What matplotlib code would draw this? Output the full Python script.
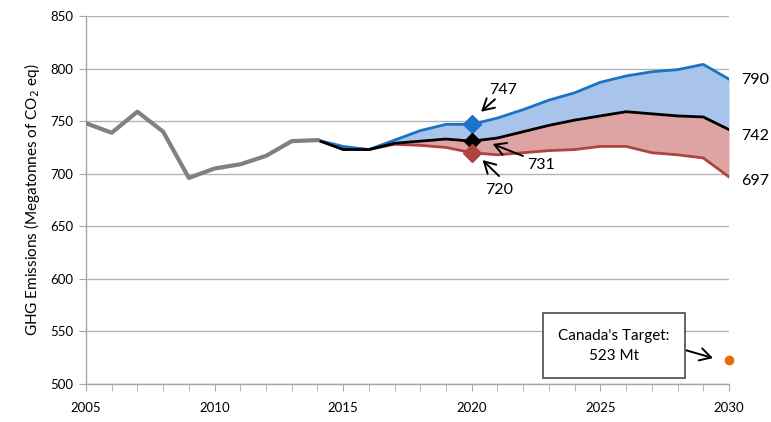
import numpy as np
import matplotlib.pyplot as plt
from matplotlib.ticker import MultipleLocator

# ---------------------------
# DATA (Mt CO2 eq)
# ---------------------------
hist_years = list(range(2005, 2015))
hist_vals = [748, 739, 759, 740, 696, 705, 709, 717, 731, 732]

proj_years = list(range(2014, 2031))
high_vals = [732, 726, 723, 732, 741, 747, 747, 753, 761, 770, 777, 787, 793, 797, 799, 804, 790]
ref_vals = [732, 723, 723, 729, 731, 733, 731, 734, 740, 746, 751, 755, 759, 757, 755, 754, 742]
low_vals = [732, 724, 723, 728, 727, 725, 720, 718, 720, 722, 723, 726, 726, 720, 718, 715, 697]

marker_year = 2020
target_year = 2030
target_val = 523

BLUE = "#1a73c8"
BLUE_FILL = "#a8c4ea"
RED = "#b0433f"
RED_FILL = "#dda4a3"
GREY = "#808080"
ORANGE = "#e46c0a"

plt.rcParams["font.family"] = ["Lato", "DejaVu Sans"]

fig = plt.figure(figsize=(7.71, 4.22), dpi=100)
ax = fig.add_axes([0.1115, 0.090, 0.834, 0.872])

yrs = np.array(proj_years)
hi = np.array(high_vals)
ref = np.array(ref_vals)
lo = np.array(low_vals)

ax.fill_between(yrs, ref, hi, color=BLUE_FILL, lw=0, zorder=2)
ax.fill_between(yrs, lo, ref, color=RED_FILL, lw=0, zorder=2)

ax.plot(hist_years, hist_vals, color=GREY, lw=3, zorder=4, solid_joinstyle="round")
ax.plot(yrs, lo, color=RED, lw=2, zorder=3)
ax.plot(yrs, hi, color=BLUE, lw=2, zorder=3)
ax.plot(yrs, ref, color="black", lw=2, zorder=3)

i = proj_years.index(marker_year)
ax.plot(marker_year, high_vals[i], marker="D", color=BLUE, ms=9, zorder=5)
ax.plot(marker_year, ref_vals[i], marker="D", color="black", ms=8, zorder=5)
ax.plot(marker_year, low_vals[i], marker="D", color=RED, ms=9, zorder=5)

ax.plot(target_year, target_val, "o", color=ORANGE, ms=6, zorder=6, clip_on=False)

# ---------------------------
# ANNOTATIONS
# ---------------------------
arrow = dict(arrowstyle="->,head_length=0.8,head_width=0.45", color="black", lw=1.4,
             shrinkA=0, shrinkB=0)
ax.annotate("", xy=(2020.36, 759.0), xytext=(2020.90, 770.8), arrowprops=arrow)
ax.text(2021.2, 779.6, f"{high_vals[i]}", ha="center", va="center", fontsize=11.5)
ax.annotate("", xy=(2020.81, 728.3), xytext=(2021.99, 716.9), arrowprops=arrow)
ax.text(2022.68, 708.3, f"{ref_vals[i]}", ha="center", va="center", fontsize=11.5)
ax.annotate("", xy=(2020.42, 713.0), xytext=(2021.06, 697.8), arrowprops=arrow)
ax.text(2021.07, 684.5, f"{low_vals[i]}", ha="center", va="center", fontsize=11.5)

ax.text(2030.47, high_vals[-1] - 1, f"{high_vals[-1]}", ha="left", va="center", fontsize=11.5, clip_on=False)
ax.text(2030.47, ref_vals[-1] - 6, f"{ref_vals[-1]}", ha="left", va="center", fontsize=11.5, clip_on=False)
ax.text(2030.47, low_vals[-1] - 4, f"{low_vals[-1]}", ha="left", va="center", fontsize=11.5, clip_on=False)

ax.annotate("", xy=(2029.38, 524.7), xytext=(2028.30, 532.3), arrowprops=arrow, zorder=7)
ax.text(2025.53, 536.6, f"Canada's Target:\n{target_val} Mt", ha="center", va="center",
        fontsize=11, linespacing=1.55, zorder=8,
        bbox=dict(boxstyle="square,pad=1.0", fc="white", ec="#595959", lw=1.3))

# ---------------------------
# FORMATO
# ---------------------------
ax.set_xlim(2005, 2030)
ax.set_ylim(500, 850)
ax.xaxis.set_major_locator(MultipleLocator(5))
ax.xaxis.set_minor_locator(MultipleLocator(1))
ax.yaxis.set_major_locator(MultipleLocator(50))
ax.grid(axis="y", color="#b3b3b3", lw=1, zorder=0)
ax.set_axisbelow(True)

for s in ["top", "right"]:
    ax.spines[s].set_visible(False)
for s in ["left", "bottom"]:
    ax.spines[s].set_color("#a6a6a6")
    ax.spines[s].set_linewidth(1)

ax.tick_params(axis="both", which="both", color="#a6a6a6", labelsize=9.5, direction="out")
ax.tick_params(axis="x", which="both", length=5, pad=8)
ax.tick_params(axis="y", length=5, pad=4)

ax.set_ylabel("GHG Emissions (Megatonnes of CO$_2$ eq)", fontsize=11, labelpad=6)

fig.savefig("out.png", dpi=100)
